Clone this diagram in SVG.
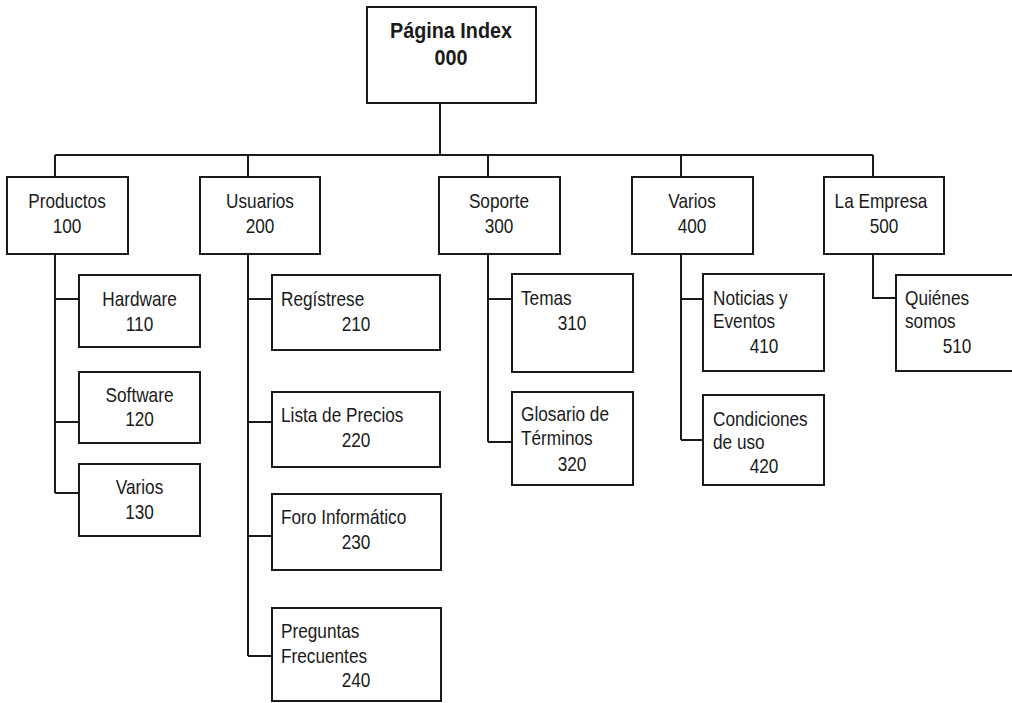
<svg xmlns="http://www.w3.org/2000/svg" width="1012" height="703" viewBox="0 0 1012 703">
<style>
rect.box{fill:#fff;stroke:#1a1a1a;stroke-width:2}
.conn path{fill:none;stroke:#1a1a1a;stroke-width:2}
text{font-family:"Liberation Sans","Arial",sans-serif;font-size:21px;fill:#1a1a1a}
.c{text-anchor:middle}
.title{font-weight:bold;font-size:22px}
</style>
<rect width="1012" height="703" fill="#fff"/>
<g class="conn" id="connectors">
<path d="M440 103V155M55 155H873M55 155V177M248 155V177M488 155V177M681 155V177M873 155V177"/>
<path d="M55 254V493M55 299H79M55 422H79M55 493H79"/>
<path d="M248 254V656M248 299H272M248 422H272M248 536H272M248 656H272"/>
<path d="M488 254V442M488 299H512M488 442H512"/>
<path d="M681 254V440M681 299H703M681 440H703"/>
<path d="M873 254V298H896"/>
</g>
<g id="n000"><rect class="box" x="367" y="7" width="169" height="96"/><text class="title c" transform="translate(451 38) scale(0.9 1)">Página Index</text><text class="title c" transform="translate(451 65) scale(0.9 1)">000</text></g>
<g id="n100"><rect class="box" x="7" y="177" width="121" height="77"/><text class="c" transform="translate(67 208) scale(0.82 1)">Productos</text><text class="c" transform="translate(67 233) scale(0.82 1)">100</text></g>
<g id="n200"><rect class="box" x="200" y="177" width="120" height="77"/><text class="c" transform="translate(260 208) scale(0.82 1)">Usuarios</text><text class="c" transform="translate(260 233) scale(0.82 1)">200</text></g>
<g id="n300"><rect class="box" x="439" y="177" width="121" height="77"/><text class="c" transform="translate(499 208) scale(0.82 1)">Soporte</text><text class="c" transform="translate(499 233) scale(0.82 1)">300</text></g>
<g id="n400"><rect class="box" x="632" y="177" width="121" height="77"/><text class="c" transform="translate(692 208) scale(0.82 1)">Varios</text><text class="c" transform="translate(692 233) scale(0.82 1)">400</text></g>
<g id="n500"><rect class="box" x="824" y="177" width="120" height="77"/><text class="c" transform="translate(881 208) scale(0.82 1)">La Empresa</text><text class="c" transform="translate(884 233) scale(0.82 1)">500</text></g>
<g id="n110"><rect class="box" x="79" y="275" width="121" height="72"/><text class="c" transform="translate(139.5 306) scale(0.82 1)">Hardware</text><text class="c" transform="translate(139.5 331) scale(0.82 1)">110</text></g>
<g id="n120"><rect class="box" x="79" y="372" width="121" height="71"/><text class="c" transform="translate(139.5 402) scale(0.82 1)">Software</text><text class="c" transform="translate(139.5 426) scale(0.82 1)">120</text></g>
<g id="n130"><rect class="box" x="79" y="464" width="121" height="72"/><text class="c" transform="translate(139.5 494) scale(0.82 1)">Varios</text><text class="c" transform="translate(139.5 519) scale(0.82 1)">130</text></g>
<g id="n210"><rect class="box" x="272" y="275" width="168" height="75"/><text transform="translate(281 306) scale(0.82 1)">Regístrese</text><text class="c" transform="translate(356 331) scale(0.82 1)">210</text></g>
<g id="n220"><rect class="box" x="272" y="392" width="168" height="75"/><text transform="translate(281 422) scale(0.82 1)">Lista de Precios</text><text class="c" transform="translate(356 447) scale(0.82 1)">220</text></g>
<g id="n230"><rect class="box" x="272" y="494" width="169" height="76"/><text transform="translate(281 524) scale(0.82 1)">Foro Informático</text><text class="c" transform="translate(356 549) scale(0.82 1)">230</text></g>
<g id="n240"><rect class="box" x="272" y="608" width="169" height="93"/><text transform="translate(281 638) scale(0.82 1)">Preguntas</text><text transform="translate(281 663) scale(0.82 1)">Frecuentes</text><text class="c" transform="translate(356 687) scale(0.82 1)">240</text></g>
<g id="n310"><rect class="box" x="512" y="274" width="121" height="98"/><text transform="translate(521 305) scale(0.82 1)">Temas</text><text class="c" transform="translate(572 330) scale(0.82 1)">310</text></g>
<g id="n320"><rect class="box" x="512" y="392" width="121" height="93"/><text transform="translate(521 421) scale(0.82 1)">Glosario de</text><text transform="translate(521 445) scale(0.82 1)">Términos</text><text class="c" transform="translate(572 471) scale(0.82 1)">320</text></g>
<g id="n410"><rect class="box" x="703" y="274" width="121" height="97"/><text transform="translate(713 305) scale(0.82 1)">Noticias y</text><text transform="translate(713 328) scale(0.82 1)">Eventos</text><text class="c" transform="translate(764 353) scale(0.82 1)">410</text></g>
<g id="n420"><rect class="box" x="703" y="395" width="121" height="90"/><text transform="translate(713 426) scale(0.82 1)">Condiciones</text><text transform="translate(713 449) scale(0.82 1)">de uso</text><text class="c" transform="translate(764 473) scale(0.82 1)">420</text></g>
<g id="n510"><rect class="box" x="896" y="275" width="121" height="96"/><text transform="translate(905 305) scale(0.82 1)">Quiénes</text><text transform="translate(905 328) scale(0.82 1)">somos</text><text class="c" transform="translate(957 353) scale(0.82 1)">510</text></g>
</svg>
